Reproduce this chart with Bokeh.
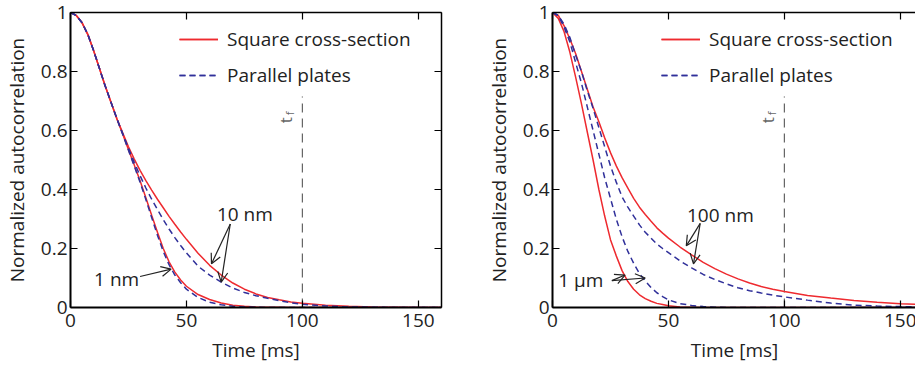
import math
from bokeh.plotting import figure
from bokeh.layouts import row
from bokeh.models import (Range1d, LinearAxis, FixedTicker, Legend, LegendItem,
                          Arrow, OpenHead, Label)
from bokeh.embed import file_html
from bokeh.resources import INLINE

# ---------------- data ----------------
time_ms = [0, 2.5, 5, 7.5, 10, 12.5, 15, 17.5, 20, 22.5, 25, 27.5, 30, 32.5, 35, 37.5,
           40, 42.5, 45, 47.5, 50, 55, 60, 65, 70, 75, 80, 85, 90, 95, 100, 110, 120,
           130, 140, 150, 160]

# left panel: 1 nm and 10 nm channels
sq_1nm = [1, 0.99, 0.965, 0.925, 0.87, 0.81, 0.75, 0.695, 0.64, 0.588, 0.535, 0.483, 0.43,
          0.372, 0.313, 0.255, 0.2, 0.155, 0.12, 0.093, 0.072, 0.044, 0.027, 0.015,
          0.008, 0.004, 0.002, 0.001, 0.0005, 0, 0, 0, 0, 0, 0, 0, 0]
pp_1nm = [1, 0.99, 0.965, 0.925, 0.87, 0.81, 0.75, 0.695, 0.64, 0.587, 0.533, 0.479, 0.425,
          0.366, 0.305, 0.245, 0.19, 0.145, 0.11, 0.084, 0.062, 0.034, 0.018, 0.009,
          0.004, 0.002, 0.001, 0, 0, 0, 0, 0, 0, 0, 0, 0, 0]
sq_10nm = [1, 0.99, 0.965, 0.925, 0.87, 0.81, 0.75, 0.695, 0.64, 0.592, 0.545, 0.503, 0.465,
           0.43, 0.398, 0.367, 0.338, 0.309, 0.282, 0.256, 0.231, 0.184, 0.143, 0.11, 0.083,
           0.062, 0.046, 0.034, 0.026, 0.019, 0.0145, 0.008, 0.004, 0.002, 0.001, 0, 0]
pp_10nm = [1, 0.99, 0.965, 0.925, 0.87, 0.81, 0.75, 0.695, 0.64, 0.59, 0.54, 0.492, 0.447,
           0.405, 0.367, 0.332, 0.298, 0.266, 0.237, 0.21, 0.185, 0.14, 0.11, 0.086, 0.066,
           0.051, 0.04, 0.031, 0.023, 0.016, 0.011, 0.005, 0.002, 0.001, 0, 0, 0]

# right panel: 1 um and 100 nm channels
sq_1um = [1, 0.98, 0.935, 0.865, 0.78, 0.69, 0.595, 0.50, 0.40, 0.31, 0.23, 0.175, 0.125,
          0.088, 0.062, 0.043, 0.03, 0.021, 0.014, 0.01, 0.006, 0.002, 0.001, 0, 0, 0, 0,
          0, 0, 0, 0, 0, 0, 0, 0, 0, 0]
pp_1um = [1, 0.99, 0.95, 0.9, 0.83, 0.76, 0.68, 0.6, 0.52, 0.44, 0.37, 0.30, 0.24, 0.19,
          0.15, 0.115, 0.09, 0.068, 0.05, 0.037, 0.026, 0.013, 0.007, 0.003, 0.001, 0, 0,
          0, 0, 0, 0, 0, 0, 0, 0, 0, 0]
sq_100nm = [1, 0.99, 0.955, 0.91, 0.86, 0.8, 0.74, 0.68, 0.63, 0.575, 0.525, 0.48, 0.44,
            0.405, 0.37, 0.34, 0.315, 0.292, 0.27, 0.252, 0.235, 0.205, 0.178, 0.153,
            0.132, 0.113, 0.097, 0.083, 0.071, 0.062, 0.054, 0.041, 0.032, 0.024, 0.018,
            0.013, 0.01]
pp_100nm = [1, 0.99, 0.96, 0.915, 0.855, 0.8, 0.735, 0.675, 0.61, 0.545, 0.48, 0.425,
            0.375, 0.34, 0.31, 0.28, 0.255, 0.235, 0.215, 0.2, 0.186, 0.158, 0.134, 0.112,
            0.095, 0.08, 0.067, 0.057, 0.049, 0.042, 0.036, 0.025, 0.015, 0.008, 0.005,
            0.003, 0.002]

x_ticks = [0, 50, 100, 150]
x_tick_labels = ["0", "50", "100", "150"]
y_ticks = [0, 0.2, 0.4, 0.6, 0.8, 1]
y_tick_labels = ["0", "0.2", "0.4", "0.6", "0.8", "1"]
tf_time = [100]
tf_top = [0.715]
legend_labels = ["Square cross-section", "Parallel plates"]

FONT = "Open Sans"
RED = "#ee2a2f"
BLUE = "#30309a"
TXT = "#222222"


def make_panel(x_end, curves_sq, curves_pp, min_left, min_right, frame_w, with_right):
    p = figure(output_backend="svg", toolbar_location=None,
               frame_width=frame_w, frame_height=295,
               min_border_left=min_left, min_border_right=min_right,
               min_border_top=12, min_border_bottom=62,
               x_range=Range1d(0, x_end), y_range=Range1d(0, 1),
               x_axis_location=None, y_axis_location=None)
    p.outline_line_color = None
    p.xgrid.visible = False
    p.ygrid.visible = False
    p.background_fill_color = "white"
    p.border_fill_color = "white"

    xo = {t: s for t, s in zip(x_ticks, x_tick_labels)}
    yo = {t: s for t, s in zip(y_ticks, y_tick_labels)}

    def style(ax, labels, lw):
        ax.major_tick_in = 7
        ax.major_tick_out = 0
        ax.minor_tick_in = 0
        ax.minor_tick_out = 0
        ax.axis_line_color = "black"
        ax.axis_line_width = lw
        ax.major_tick_line_color = "black"
        ax.major_tick_line_width = 1.2
        ax.major_label_text_font = FONT
        ax.major_label_text_color = TXT
        ax.axis_label_text_font = FONT
        ax.axis_label_text_color = TXT
        ax.axis_label_text_font_style = "normal"
        if not labels:
            ax.major_label_text_font_size = "1px"
            ax.major_label_standoff = 0

    bottom = LinearAxis(ticker=FixedTicker(ticks=x_ticks), major_label_overrides=xo,
                        axis_label="Time [ms]")
    style(bottom, True, 2)
    bottom.major_label_text_font_size = "19px"
    bottom.axis_label_text_font_size = "19px"
    bottom.major_label_standoff = 6
    bottom.axis_label_standoff = 7
    p.add_layout(bottom, "below")

    left = LinearAxis(ticker=FixedTicker(ticks=y_ticks), major_label_overrides=yo,
                      axis_label="Normalized autocorrelation")
    style(left, True, 2)
    left.major_label_text_font_size = "19px"
    left.axis_label_text_font_size = "19px"
    left.major_label_standoff = 3
    left.axis_label_standoff = 8
    p.add_layout(left, "left")

    top = LinearAxis(ticker=FixedTicker(ticks=x_ticks),
                     major_label_overrides={t: "" for t in x_ticks})
    style(top, False, 1.5)
    p.add_layout(top, "above")

    if with_right:
        right = LinearAxis(ticker=FixedTicker(ticks=y_ticks),
                           major_label_overrides={t: "" for t in y_ticks})
        style(right, False, 1.5)
        p.add_layout(right, "right")

    # t_f marker
    p.segment(x0=tf_time, y0=[0] * len(tf_time), x1=tf_time, y1=tf_top,
              line_color="#666666", line_width=1.2, line_dash="9 6")

    reds = []
    blues = []
    for ys in curves_sq:
        reds.append(p.line(time_ms, ys, line_color=RED, line_width=1.5))
    for ys in curves_pp:
        blues.append(p.line(time_ms, ys, line_color=BLUE, line_width=1.5,
                            line_dash="6 4"))

    legend = Legend(items=[LegendItem(label=legend_labels[0], renderers=reds),
                           LegendItem(label=legend_labels[1], renderers=blues)],
                    location=(109, 219), orientation="vertical")
    legend.border_line_color = None
    legend.background_fill_alpha = 0
    legend.label_text_font = FONT
    legend.label_text_font_size = "19px"
    legend.label_text_color = TXT
    legend.glyph_width = 39
    legend.glyph_height = 20
    legend.label_height = 20
    legend.label_standoff = 9
    legend.spacing = 10
    legend.padding = 0
    legend.margin = 0
    p.add_layout(legend, "center")

    p.add_layout(Label(x=92.8, y=0.625, text="t", angle=math.pi / 2,
                       text_font=FONT, text_font_size="17px", text_color="#666666",
                       text_align="left", text_baseline="alphabetic"))
    p.add_layout(Label(x=94.5, y=0.652, text="f", angle=math.pi / 2,
                       text_font=FONT, text_font_size="11px", text_color="#666666",
                       text_align="left", text_baseline="alphabetic"))
    return p


p1 = make_panel(160, [sq_1nm, sq_10nm], [pp_1nm, pp_10nm], 69, 20, 371, True)
p2 = make_panel(160 * 364 / 371, [sq_1um, sq_100nm], [pp_1um, pp_100nm], 91, 0, 364, False)


def annotate(p, text, tx, ty, arrows):
    p.add_layout(Label(x=tx, y=ty, text=text, text_font=FONT, text_font_size="19px",
                       text_color=TXT, text_align="center", text_baseline="middle"))
    for (xs, ys, xe, ye) in arrows:
        p.add_layout(Arrow(x_start=xs, y_start=ys, x_end=xe, y_end=ye,
                           line_color="#222222", line_width=1.2,
                           end=OpenHead(size=10, line_color="#222222", line_width=1.2)))


annotate(p1, "10 nm", 75.2, 0.316, [(68.9, 0.283, 60.8, 0.148), (68.9, 0.283, 65.0, 0.086)])
annotate(p1, "1 nm", 19.9, 0.095, [(30.0, 0.105, 43.4, 0.13)])
annotate(p2, "100 nm", 72.4, 0.3125, [(63.7, 0.285, 57.7, 0.209), (63.7, 0.285, 60.8, 0.148)])
annotate(p2, "1 µm", 12.2, 0.093, [(25.6, 0.091, 31.3, 0.11), (25.6, 0.091, 40.0, 0.10)])

layout = row(p1, p2, spacing=0)
open("out.html", "w").write(file_html(layout, INLINE))
